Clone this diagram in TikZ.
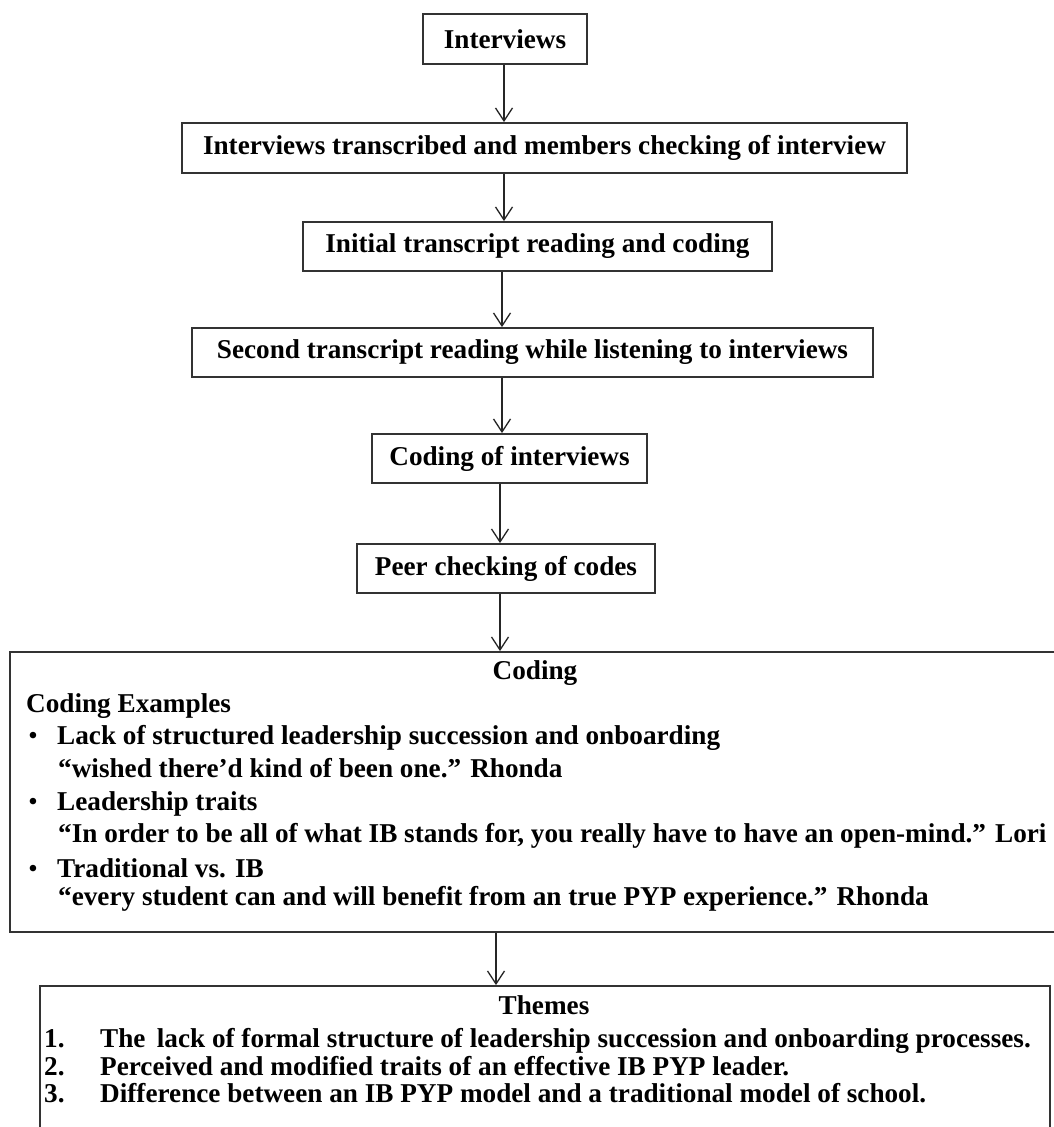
\documentclass[tikz,border=0pt]{standalone}
\usepackage{fontspec}
\setmainfont{Liberation Serif}
\usetikzlibrary{arrows.meta}
\newcommand\mybf{\fontsize{27.2}{32}\selectfont\bfseries}
\begin{document}
\begin{tikzpicture}[x=1pt,y=-1pt,
  box/.style={draw=black!80, line width=1.8pt, inner sep=0pt, font=\mybf, text=black},
  arr/.style={draw=black!85, line width=1.3pt, -{Straight Barb[length=13pt,width=17pt]}},
  txt/.style={inner sep=0pt, font=\mybf, text=black, text height=0.7em, text depth=0.25em},
  bul/.style={inner sep=0pt, anchor=base, font=\fontsize{24}{26}\selectfont\bfseries, text=black}]
\useasboundingbox (0,0) rectangle (1054,1127);
\clip (0,0) rectangle (1054,1127);
\fill[white] (0,0) rectangle (1054,1127);

% process boxes
\node[box, minimum width=164pt, minimum height=50pt] (b1) at (505,39) {Interviews};
\node[box, minimum width=725pt, minimum height=50pt] (b2) at (544.5,148) {Interviews transcribed and members checking of interview};
\node[box, minimum width=469pt, minimum height=49pt] (b3) at (537.5,246.5) {Initial transcript reading and coding};
\node[box, minimum width=681pt, minimum height=49pt] (b4) at (532.5,352.5) {Second transcript reading while listening to interviews};
\node[box, minimum width=275pt, minimum height=49pt] (b5) at (509.5,458.5) {Coding of interviews};
\node[box, minimum width=298pt, minimum height=49pt] (b6) at (506,568.5) {Peer checking of codes};

% coding box
\node[box, minimum width=1050pt, minimum height=280pt] (coding) at (535,792) {};
\node[txt] (ctitle) at (535,677) {Coding};
\node[txt, anchor=west] (cex) at (26,710) {Coding Examples};
\node[bul] (cb1) at (33,743) {•};
\node[txt, anchor=west] (ci1) at (57,742) {Lack of structured leadership succession and onboarding};
\node[txt, anchor=west] (cq1) at (58,775) {“wished there’d kind of been one.” Rhonda};
\node[bul] (cb2) at (33,809) {•};
\node[txt, anchor=west] (ci2) at (57,808) {Leadership traits};
\node[txt, anchor=west] (cq2) at (58,840) {“In order to be all of what IB stands for, you really have to have an open-mind.” Lori};
\node[bul] (cb3) at (33,876) {•};
\node[txt, anchor=west] (ci3) at (57,875) {Traditional vs. IB};
\node[txt, anchor=west] (cq3) at (58,903) {“every student can and will benefit from an true PYP experience.” Rhonda};

% themes box
\node[box, minimum width=1010pt, minimum height=154pt] (themes) at (545,1063) {};
\node[txt] (ttitle) at (544,1012) {Themes};
\node[txt, anchor=west] (tn1) at (44,1045) {1.};
\node[txt, anchor=west] (tt1) at (100,1045) {The\, lack of formal structure of leadership succession and onboarding processes.};
\node[txt, anchor=west] (tn2) at (44,1073) {2.};
\node[txt, anchor=west] (tt2) at (100,1073) {Perceived and modified traits of an effective IB PYP leader.};
\node[txt, anchor=west] (tn3) at (44,1100) {3.};
\node[txt, anchor=west] (tt3) at (100,1100) {Difference between an IB PYP model and a traditional model of school.};

% connector x positions
\coordinate (xa) at (504,0);
\coordinate (xb) at (502,0);
\coordinate (xc) at (500,0);
\coordinate (xd) at (496,0);

\draw[arr] (b1.south -| xa) -- (b2.north -| xa);
\draw[arr] (b2.south -| xa) -- (b3.north -| xa);
\draw[arr] (b3.south -| xb) -- (b4.north -| xb);
\draw[arr] (b4.south -| xb) -- (b5.north -| xb);
\draw[arr] (b5.south -| xc) -- (b6.north -| xc);
\draw[arr] (b6.south -| xc) -- (coding.north -| xc);
\draw[arr] (coding.south -| xd) -- (themes.north -| xd);
\end{tikzpicture}
\end{document}
